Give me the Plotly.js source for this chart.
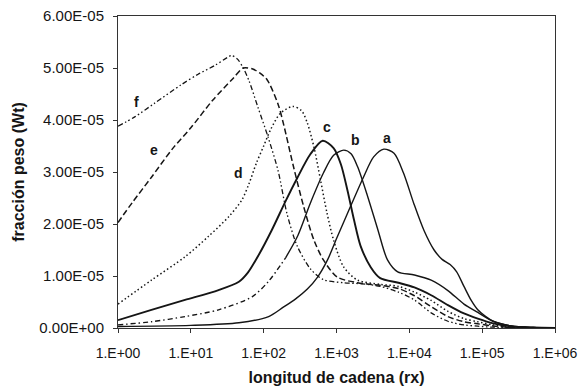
<!DOCTYPE html>
<html>
<head>
<meta charset="utf-8">
<script src="https://cdn.plot.ly/plotly-3.0.1.min.js"></script>
<style>
  html, body { margin: 0; padding: 0; background: #fff; }
  #chart { width: 588px; height: 392px; }
</style>
</head>
<body>
<div id="chart"></div>
<script>
// ---- data (x = longitud de cadena, y = fracción peso) ----
const xA = [1, 10, 45.7, 117, 186, 275, 398, 550, 759, 1023, 1549, 2344, 3236, 4467, 6166, 8318, 11482, 15849, 21878, 28184, 36308, 44668, 56234, 70795, 87096, 112202, 141254, 251189, 501187, 1e6];
const yA = [0.3e-6, 0.5e-6, 1.0e-6, 2.2e-6, 4.0e-6, 5.6e-6, 7.5e-6, 9.8e-6, 13.2e-6, 17.5e-6, 23.3e-6, 29.0e-6, 32.9e-6, 34.4e-6, 33.6e-6, 29.8e-6, 24.0e-6, 18.8e-6, 15.0e-6, 13.2e-6, 12.2e-6, 10.8e-6, 8.0e-6, 5.3e-6, 3.5e-6, 2.2e-6, 1.3e-6, 0.4e-6, 0.1e-6, 0];

const xBlow = [1, 2.88, 8.32, 24.0, 69.2, 117, 200];
const yBlow = [0.6e-6, 1.2e-6, 2.2e-6, 3.5e-6, 6.0e-6, 9.0e-6, 13.5e-6];
const xBhigh = [200, 295, 437, 661, 912, 1259, 1585, 1950, 2692, 3715, 5012, 6918, 11749, 19953, 33884, 56234, 87096, 141254, 251189, 501187, 1e6];
const yBhigh = [13.5e-6, 17.8e-6, 24.0e-6, 29.8e-6, 33.2e-6, 34.2e-6, 33.5e-6, 31.0e-6, 25.2e-6, 18.8e-6, 13.1e-6, 10.8e-6, 10.2e-6, 9.2e-6, 7.2e-6, 4.6e-6, 3.0e-6, 1.3e-6, 0.4e-6, 0.1e-6, 0];

const xC = [1, 2.88, 8.32, 24.0, 45.7, 60.3, 85.1, 129, 200, 288, 437, 646, 912, 1148, 1413, 1738, 2138, 2951, 3981, 7079, 11749, 19953, 33884, 56234, 87096, 141254, 251189, 501187, 1e6];
const yC = [1.5e-6, 3.5e-6, 5.4e-6, 7.3e-6, 8.9e-6, 10.6e-6, 14.0e-6, 18.8e-6, 24.4e-6, 28.8e-6, 33.4e-6, 36.0e-6, 34.6e-6, 31.5e-6, 26.5e-6, 20.8e-6, 15.8e-6, 11.7e-6, 9.6e-6, 8.7e-6, 7.8e-6, 6.3e-6, 4.4e-6, 2.8e-6, 1.8e-6, 0.9e-6, 0.3e-6, 0.1e-6, 0];

const xD = [1, 2.88, 8.32, 17.4, 33.1, 50.1, 63.1, 79.4, 100, 126, 170, 251, 331, 398, 490, 603, 741, 912, 1259, 1950, 3981, 7079, 11749, 19953, 33884, 56234, 87096, 141254, 251189, 501187, 1e6];
const yD = [4.6e-6, 9.2e-6, 13.7e-6, 17.6e-6, 21.4e-6, 24.6e-6, 27.8e-6, 31.7e-6, 35.0e-6, 38.3e-6, 41.3e-6, 42.6e-6, 41.8e-6, 39.4e-6, 34.8e-6, 28.5e-6, 22.1e-6, 16.9e-6, 11.7e-6, 9.2e-6, 8.4e-6, 8.0e-6, 6.9e-6, 5.3e-6, 3.2e-6, 1.8e-6, 1.2e-6, 0.6e-6, 0.2e-6, 0.05e-6, 0];

const xE = [1, 1.585, 2.88, 5.62, 10, 19.95, 38.0, 52.5, 70.8, 89.1, 112, 158, 186, 257, 355, 490, 661, 1023, 1950, 3981, 7079, 11749, 19953, 33884, 56234, 87096, 141254, 251189, 501187, 1e6];
const yE = [20.3e-6, 24.2e-6, 29.0e-6, 34.5e-6, 38.5e-6, 43.8e-6, 48.0e-6, 50.0e-6, 49.8e-6, 49.0e-6, 47.7e-6, 43.0e-6, 39.4e-6, 31.0e-6, 23.3e-6, 16.9e-6, 13.1e-6, 9.8e-6, 8.7e-6, 8.2e-6, 7.6e-6, 6.2e-6, 4.1e-6, 2.2e-6, 1.2e-6, 0.8e-6, 0.4e-6, 0.1e-6, 0.03e-6, 0];

const xF = [1, 1.70, 3.16, 7.41, 12.6, 21.4, 31.6, 36.3, 43.7, 52.5, 63.1, 83.2, 115, 158, 209, 288, 437, 661, 1259, 2239, 3981, 7079, 11749, 19953, 33884, 56234, 87096, 141254, 251189, 1e6];
const yF = [38.8e-6, 40.6e-6, 43.2e-6, 46.8e-6, 48.8e-6, 50.5e-6, 52.0e-6, 52.4e-6, 51.7e-6, 50.0e-6, 47.5e-6, 42.5e-6, 36.7e-6, 30.2e-6, 22.0e-6, 15.8e-6, 11.4e-6, 9.3e-6, 8.7e-6, 8.5e-6, 8.0e-6, 6.9e-6, 5.4e-6, 2.9e-6, 1.3e-6, 0.6e-6, 0.35e-6, 0.15e-6, 0.05e-6, 0];

const curveLabels = ['a', 'b', 'c', 'd', 'e', 'f'];
const labelX = [4898, 1820, 752, 44.7, 3.16, 1.80];
const labelY = [36.5e-6, 36.2e-6, 38.7e-6, 29.8e-6, 34.2e-6, 43.5e-6];

const xTickVals = [1, 10, 100, 1000, 10000, 100000, 1000000];
const xTickText = ['1.E+00', '1.E+01', '1.E+02', '1.E+03', '1.E+04', '1.E+05', '1.E+06'];
const yTickVals = [0, 1e-5, 2e-5, 3e-5, 4e-5, 5e-5, 6e-5];
const yTickText = ['0.00E+00', '1.00E-05', '2.00E-05', '3.00E-05', '4.00E-05', '5.00E-05', '6.00E-05'];

// ---- traces ----
const ink = '#151515';
function tr(x, y, dash, width) {
  return {
    x: x, y: y, type: 'scatter', mode: 'lines', hoverinfo: 'skip',
    line: { color: ink, width: width, dash: dash, shape: 'spline', smoothing: 0.8 }
  };
}
const traces = [
  tr(xA, yA, 'solid', 1.4),
  tr(xBlow, yBlow, '5px,3px,1.5px,3px', 1.4),
  tr(xBhigh, yBhigh, 'solid', 1.4),
  tr(xC, yC, 'solid', 1.9),
  tr(xD, yD, '1.5px,2.5px', 1.5),
  tr(xE, yE, '6px,3px', 1.5),
  tr(xF, yF, '5px,2.5px,1.5px,2.5px,1.5px,2.5px', 1.3)
];

const annotations = curveLabels.map((t, i) => ({
  x: Math.log10(labelX[i]), y: labelY[i], xref: 'x', yref: 'y',
  text: '<b>' + t + '</b>', showarrow: false,
  font: { family: 'Liberation Sans, Arial, sans-serif', size: 14, color: ink }
}));

const layout = {
  width: 588, height: 392,
  margin: { l: 118, r: 33, t: 16, b: 64, pad: 0 },
  paper_bgcolor: '#ffffff', plot_bgcolor: '#ffffff',
  showlegend: false,
  font: { family: 'Liberation Sans, Arial, sans-serif', color: ink },
  xaxis: {
    type: 'log', range: [0, 6],
    tickvals: xTickVals, ticktext: xTickText,
    ticks: 'outside', ticklen: 4, tickcolor: '#333', tickwidth: 1,
    showline: true, linecolor: '#333', linewidth: 1, mirror: true,
    showgrid: false, zeroline: false,
    tickfont: { size: 14, color: ink }, ticklabelstandoff: 8,
    title: { text: '<b>longitud de cadena (rx)</b>', font: { size: 16, color: ink }, standoff: 12 }
  },
  yaxis: {
    range: [0, 6e-5],
    tickvals: yTickVals, ticktext: yTickText,
    ticks: 'outside', ticklen: 4, tickcolor: '#333', tickwidth: 1,
    showline: true, linecolor: '#333', linewidth: 1, mirror: true,
    showgrid: false, zeroline: false,
    tickfont: { size: 15, color: ink }, ticklabelstandoff: 6,
    title: { text: '<b>fracción peso (Wt)</b>', font: { size: 16, color: ink }, standoff: 10 }
  },
  annotations: annotations
};

Plotly.newPlot('chart', traces, layout, { staticPlot: true, displayModeBar: false });
</script>
</body>
</html>
